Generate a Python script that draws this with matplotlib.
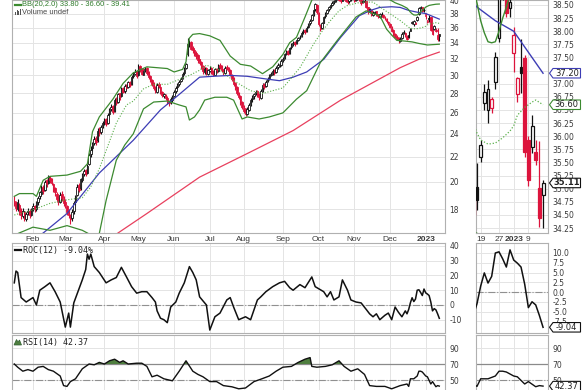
import numpy as np
import matplotlib
matplotlib.use("Agg")
import matplotlib.pyplot as plt
from matplotlib.patches import Polygon, Rectangle
from matplotlib.lines import Line2D
from matplotlib.ticker import FixedLocator, FixedFormatter, NullLocator

plt.rcParams['font.family'] = ['DejaVu Sans']

# ---------------- daily prices (trading-day index 0 = mid Jan 2022 ... 250 = Jan 13 2023)
opens = [18.6, 18.4, 18.0, 18.3, 17.9, 17.5, 17.8, 17.3, 17.8, 17.9,
         17.6, 18.1, 18.2, 18.0, 18.5, 18.9, 19.1, 19.6, 19.4, 20.1,
         19.9, 20.3, 20.2, 19.8, 19.5, 19.1, 18.8, 18.5, 19.1, 18.7,
         18.5, 18.2, 17.9, 17.5, 17.4, 17.9, 18.5, 19.0, 19.7, 19.5,
         20.1, 20.6, 20.9, 20.7, 21.4, 22.2, 22.7, 23.2, 23.6, 23.4,
         24.4, 24.2, 24.7, 25.1, 25.4, 25.0, 25.9, 26.4, 26.7, 26.2,
         27.4, 27.1, 28.0, 27.7, 28.6, 28.3, 28.9, 28.7, 29.3, 29.0,
         29.9, 30.2, 30.5, 30.0, 31.1, 30.7, 30.1, 30.6, 30.9, 30.4,
         29.9, 29.5, 29.1, 28.7, 28.2, 29.0, 28.7, 28.2, 27.7, 27.8,
         27.5, 27.1, 27.1, 27.3, 27.7, 28.3, 28.7, 29.0, 29.4, 29.7,
         30.3, 30.9, 32.5, 33.9, 34.1, 33.3, 33.1, 32.7, 32.4, 31.9,
         31.6, 31.1, 30.4, 30.9, 30.2, 30.5, 30.9, 30.5, 30.1, 30.8,
         30.5, 31.2, 31.1, 30.7, 30.3, 31.0, 30.9, 30.6, 30.1, 29.7,
         29.1, 28.7, 28.1, 27.7, 27.1, 26.5, 26.3, 25.9, 26.3, 26.9,
         27.4, 27.7, 28.0, 28.3, 27.9, 27.5, 28.4, 29.0, 28.8, 29.4,
         29.7, 30.1, 30.3, 30.6, 30.4, 31.0, 31.3, 31.2, 31.8, 32.1,
         32.6, 32.9, 32.7, 33.4, 33.8, 34.1, 33.9, 34.4, 34.7, 34.9,
         35.4, 35.7, 35.5, 36.1, 36.6, 37.1, 37.9, 38.6, 39.3, 38.1,
         36.4, 35.9, 36.7, 37.6, 38.1, 38.6, 39.0, 39.3, 39.7, 39.9,
         40.2, 40.4, 40.1, 39.9, 40.5, 40.3, 39.8, 39.8, 40.2, 40.4,
         40.5, 40.0, 40.3, 40.6, 40.0, 39.7, 39.9, 39.8, 38.9, 38.2,
         38.5, 37.8, 38.0, 38.3, 37.9, 37.5, 38.0, 37.8, 37.4, 37.2,
         36.8, 36.5, 36.0, 35.7, 35.2, 34.7, 34.6, 34.2, 34.6, 35.3,
         35.3, 34.9, 35.03, 35.60, 36.63, 36.50, 36.54, 37.03, 37.87, 38.80,
         38.90, 38.45, 37.59, 36.80, 37.32, 37.49, 35.93, 35.80, 35.70, 35.01, 34.88]
highs = [18.9, 18.6, 18.7, 18.4, 18.1, 18.1, 17.9, 17.8, 18.1, 18.0,
         18.1, 18.4, 18.3, 18.6, 18.9, 19.3, 19.7, 19.7, 20.1, 20.2,
         20.5, 20.4, 20.3, 19.9, 19.6, 19.2, 18.9, 19.2, 19.3, 18.9,
         18.7, 18.3, 18.0, 17.7, 18.0, 18.6, 19.0, 19.8, 19.9, 20.3,
         20.7, 21.0, 21.0, 21.4, 22.3, 22.9, 23.3, 23.8, 23.8, 24.5,
         24.6, 24.8, 25.2, 25.5, 25.5, 26.0, 26.5, 26.9, 26.8, 27.5,
         27.6, 28.1, 28.1, 28.7, 28.7, 29.0, 29.0, 29.4, 29.4, 30.0,
         30.4, 30.7, 30.6, 31.3, 31.2, 30.8, 30.7, 31.0, 31.0, 30.5,
         30.0, 29.6, 29.2, 28.8, 29.1, 29.2, 28.8, 28.3, 28.1, 27.9,
         27.7, 27.3, 27.6, 27.8, 28.4, 28.8, 29.1, 29.5, 29.8, 30.4,
         31.0, 31.5, 34.6, 34.4, 34.2, 33.6, 33.2, 32.9, 32.5, 32.0,
         31.7, 31.2, 31.0, 31.0, 30.8, 31.1, 31.0, 30.6, 30.9, 30.9,
         31.3, 31.4, 31.2, 30.8, 31.1, 31.2, 31.0, 30.7, 30.2, 29.8,
         29.3, 28.8, 28.2, 27.8, 27.2, 26.8, 26.5, 26.6, 27.0, 27.5,
         27.8, 28.1, 28.4, 28.4, 28.0, 28.5, 29.1, 29.1, 29.5, 29.8,
         30.2, 30.4, 30.7, 30.7, 31.1, 31.4, 31.5, 31.9, 32.2, 32.7,
         33.0, 33.0, 33.5, 33.9, 34.2, 34.2, 34.5, 34.8, 35.0, 35.5,
         35.8, 35.8, 36.2, 36.7, 37.2, 38.0, 38.7, 39.6, 39.4, 38.2,
         36.5, 36.8, 37.7, 38.2, 38.7, 39.1, 39.4, 39.8, 40.0, 40.4,
         40.6, 40.5, 40.2, 40.6, 40.7, 40.4, 40.0, 40.3, 40.5, 40.9,
         40.6, 40.4, 40.7, 40.7, 40.1, 40.0, 40.2, 39.9, 39.0, 38.8,
         38.6, 38.3, 38.4, 38.4, 38.0, 38.1, 38.2, 37.9, 37.6, 37.3,
         36.9, 36.6, 36.2, 35.8, 35.3, 35.0, 34.7, 34.7, 35.4, 35.7,
         35.4, 35.0, 35.49, 35.93, 37.00, 37.07, 36.75, 37.60, 38.90, 39.10,
         39.00, 38.80, 38.08, 37.13, 37.85, 37.55, 36.00, 36.40, 35.93, 35.90, 35.17]
lows = [18.2, 17.9, 17.9, 17.6, 17.3, 17.4, 17.2, 17.2, 17.6, 17.4,
        17.5, 17.9, 17.8, 17.9, 18.3, 18.7, 19.0, 19.1, 19.3, 19.6,
        19.8, 19.9, 19.7, 19.2, 18.9, 18.5, 18.3, 18.4, 18.6, 18.2,
        18.1, 17.6, 17.4, 17.0, 17.2, 17.7, 18.3, 18.9, 19.2, 19.4,
        20.0, 20.4, 20.4, 20.6, 21.3, 22.0, 22.5, 23.0, 23.0, 23.3,
        23.8, 24.0, 24.5, 24.8, 24.7, 24.9, 25.7, 26.2, 25.9, 26.1,
        26.8, 27.0, 27.3, 27.6, 28.0, 28.1, 28.4, 28.6, 28.7, 28.9,
        29.7, 30.0, 29.7, 29.9, 30.4, 30.0, 30.0, 30.4, 30.1, 29.6,
        29.2, 28.8, 28.4, 28.0, 28.1, 28.6, 27.9, 27.6, 27.5, 27.3,
        26.9, 26.7, 26.9, 27.1, 27.6, 28.1, 28.5, 28.8, 29.2, 29.6,
        30.1, 30.7, 32.3, 33.4, 33.0, 32.7, 32.3, 32.0, 31.5, 31.2,
        30.7, 30.2, 30.2, 30.0, 30.1, 30.4, 30.2, 29.9, 30.0, 30.3,
        30.4, 30.8, 30.4, 30.1, 30.2, 30.6, 30.3, 29.9, 29.4, 28.8,
        28.4, 27.8, 27.4, 26.8, 26.4, 26.0, 25.7, 25.8, 26.2, 26.7,
        27.1, 27.4, 27.8, 27.6, 27.3, 27.4, 28.2, 28.5, 28.7, 29.2,
        29.5, 29.9, 30.1, 30.1, 30.3, 30.8, 31.0, 31.1, 31.6, 32.0,
        32.4, 32.4, 32.6, 33.2, 33.6, 33.6, 33.8, 34.2, 34.5, 34.8,
        35.2, 35.2, 35.4, 35.9, 36.4, 37.0, 37.7, 38.4, 38.0, 36.3,
        35.6, 35.8, 36.6, 37.4, 37.9, 38.4, 38.8, 39.1, 39.4, 39.7,
        40.0, 39.8, 39.5, 39.8, 40.0, 39.7, 39.4, 39.6, 39.9, 40.2,
        39.7, 39.8, 40.1, 39.9, 39.3, 39.5, 39.6, 38.8, 38.0, 38.1,
        37.7, 37.7, 37.9, 37.6, 37.4, 37.4, 37.7, 37.3, 37.1, 36.7,
        36.4, 35.9, 35.4, 34.9, 34.6, 34.3, 34.0, 34.1, 34.5, 35.1,
        34.8, 34.3, 34.60, 35.50, 36.50, 36.25, 36.45, 36.90, 37.80, 38.60,
        38.27, 38.28, 37.22, 36.65, 36.82, 35.60, 35.05, 35.68, 35.45, 34.28, 34.25]
closes = [18.4, 18.1, 18.5, 17.8, 17.6, 17.9, 17.4, 17.7, 17.9, 17.6,
          18.0, 18.2, 18.0, 18.5, 18.8, 19.2, 19.5, 19.3, 20.0, 19.8,
          20.4, 20.1, 19.9, 19.4, 19.2, 18.7, 18.6, 19.0, 18.8, 18.4,
          18.3, 17.8, 17.6, 17.3, 17.8, 18.4, 18.9, 19.6, 19.4, 20.2,
          20.5, 20.8, 20.6, 21.2, 22.1, 22.6, 23.1, 23.5, 23.3, 24.3,
          24.1, 24.6, 25.0, 25.3, 24.9, 25.8, 26.3, 26.6, 26.1, 27.3,
          27.0, 27.9, 27.6, 28.5, 28.2, 28.8, 28.6, 29.2, 28.9, 29.8,
          30.1, 30.4, 29.9, 31.0, 30.6, 30.2, 30.5, 30.8, 30.3, 29.8,
          29.4, 29.0, 28.6, 28.3, 28.9, 28.8, 28.1, 27.8, 27.9, 27.5,
          27.2, 27.0, 27.4, 27.6, 28.2, 28.6, 28.9, 29.3, 29.6, 30.2,
          30.8, 31.3, 33.8, 34.0, 33.2, 33.0, 32.6, 32.3, 31.8, 31.5,
          31.0, 30.5, 30.8, 30.3, 30.6, 30.8, 30.4, 30.2, 30.7, 30.6,
          31.1, 31.0, 30.6, 30.4, 30.9, 30.8, 30.5, 30.2, 29.6, 29.0,
          28.6, 28.0, 27.6, 27.0, 26.6, 26.2, 25.9, 26.4, 26.8, 27.3,
          27.6, 27.9, 28.2, 27.8, 27.6, 28.3, 28.9, 28.7, 29.3, 29.6,
          30.0, 30.2, 30.5, 30.3, 30.9, 31.2, 31.3, 31.7, 32.0, 32.5,
          32.8, 32.6, 33.3, 33.7, 34.0, 33.8, 34.3, 34.6, 34.8, 35.3,
          35.6, 35.4, 36.0, 36.5, 37.0, 37.8, 38.5, 39.4, 38.2, 36.5,
          35.8, 36.6, 37.5, 38.0, 38.5, 38.9, 39.2, 39.6, 39.8, 40.1,
          40.3, 40.0, 39.8, 40.4, 40.2, 39.9, 39.7, 40.1, 40.3, 40.6,
          39.9, 40.2, 40.5, 40.1, 39.6, 39.8, 39.9, 39.0, 38.3, 38.6,
          37.9, 38.1, 38.2, 37.8, 37.6, 37.9, 37.9, 37.5, 37.3, 36.9,
          36.6, 36.1, 35.6, 35.1, 34.8, 34.5, 34.3, 34.5, 35.2, 35.4,
          35.0, 34.5, 34.79, 35.83, 36.84, 36.90, 36.70, 37.50, 38.75, 38.90,
          38.35, 38.55, 37.93, 37.10, 37.20, 35.70, 35.17, 36.20, 35.55, 34.44, 35.11]

# ---------------- overlays (sampled at trading-day index)
bb_up_idx = [0, 3, 11, 13, 17, 21, 31, 39, 43, 46, 50, 58, 64, 70, 78, 90, 94, 99, 101, 102,
             103, 105, 109, 115, 121, 127, 133, 139, 146, 152, 158, 162, 166, 171, 175, 180, 190, 200,
             207, 212, 215, 220, 224, 228, 231, 232, 233, 234, 235, 236, 237, 238, 239, 240, 241,
             242, 244, 246, 248, 250]
bb_up = [18.9, 19.1, 19.1, 18.9, 20.1, 20.4, 20.5, 20.8, 21.4, 24.2, 25.6, 27.4, 29.1, 30.3, 31.0,
         30.8, 30.4, 30.7, 31.6, 33.4, 34.6, 35.1, 35.2, 34.9, 34.3, 32.3, 31.3, 31.1, 30.2, 31.0,
         32.5, 34.0, 34.7, 37.5, 40.0, 41.8, 42.5, 42.0, 41.3, 41.0, 40.5, 40.2, 39.6, 39.2, 38.8,
         38.54, 38.2, 37.97, 37.8, 37.78, 37.8, 38.0, 38.25, 38.46, 38.7, 38.95, 39.2, 39.3, 39.38,
         39.41]
bb_mid_idx = [0, 11, 21, 31, 40, 45, 50, 55, 60, 66, 70, 76, 82, 90, 99, 103, 109, 113, 121, 129,
              139, 146, 158, 168, 176, 181, 186, 191, 196, 204, 211, 219, 227, 232, 233, 235, 237,
              239, 241, 242, 243, 245, 247, 248, 250]
bb_mid = [17.6, 17.95, 18.4, 18.65, 18.8, 19.6, 21.0, 22.9, 25.0, 26.8, 27.2, 28.5, 29.0, 29.0,
          29.7, 30.0, 30.6, 31.2, 30.6, 29.4, 28.3, 28.0, 28.6, 30.9, 33.8, 35.5, 37.0, 38.4, 39.2,
          39.7, 39.7, 38.3, 37.0, 36.06, 35.93, 35.85, 35.87, 35.97, 36.1, 36.2, 36.4, 36.55, 36.65,
          36.69, 36.6]
bb_lo_idx = [0, 11, 21, 31, 40, 47, 50, 54, 60, 65, 70, 76, 82, 90, 97, 101, 103, 106, 109, 112,
             118, 125, 129, 134, 137, 144, 150, 158, 166, 172, 180, 190, 201, 207, 211, 215, 219, 222,
             225, 230, 234, 238, 243, 250]
bb_lo = [16.3, 16.8, 16.6, 16.9, 16.6, 16.2, 16.4, 18.6, 21.7, 23.0, 24.0, 26.4, 27.1, 27.2, 26.8,
         26.6, 25.3, 25.6, 26.3, 27.3, 27.6, 27.6, 27.3, 25.4, 25.6, 25.4, 25.6, 26.0, 27.4, 28.3,
         31.5, 34.3, 37.5, 38.4, 38.0, 37.7, 35.8, 35.0, 34.3, 34.2, 34.1, 33.9, 33.7, 33.8]
sma50_idx = [12, 17, 31, 50, 70, 86, 97, 109, 117, 127, 137, 148, 156, 164, 172, 182, 192, 203, 210,
             215, 222, 227, 232, 237, 242, 245, 248, 250]
sma50 = [16.1, 16.43, 17.7, 20.66, 23.42, 26.3, 27.9, 29.8, 29.9, 30.0, 29.9, 29.6, 29.4, 29.8,
         30.4, 31.9, 34.7, 37.7, 38.5, 38.9, 39.0, 38.9, 38.46, 38.2, 38.0, 37.7, 37.4, 37.2]
sma200_idx = [55, 61, 78, 109, 139, 164, 192, 227, 239, 250]
sma200 = [15.96, 16.43, 17.7, 20.34, 22.4, 24.3, 27.3, 30.9, 32.0, 32.8]

# ---------------- indicators
roc_idx = [0, 1, 2, 4, 7, 11, 13, 15, 18, 21, 24, 27, 30, 32, 33, 35, 40, 42, 43, 44,
           45, 47, 50, 54, 57, 60, 63, 66, 69, 72, 75, 78, 81, 83, 84, 86, 88, 90, 92, 95,
           97, 100, 103, 105, 107, 109, 113, 115, 118, 121, 125, 127, 129, 132, 136, 139, 143, 145, 148, 152,
           156, 159, 162, 164, 168, 171, 175, 177, 182, 184, 186, 188, 191, 193, 196, 198, 201, 204, 207, 209,
           211, 213, 215, 218, 220, 222, 224, 226, 228, 230, 231, 232, 233, 234, 235, 236, 237, 238, 239, 240,
           241, 242, 243, 244, 245, 246, 247, 248, 249, 250]
roc = [15, 23, 22, 5, 2, 5, 0, 10, 12.4, 15, 9, 2, -15, -5.5, -15, 1.4, 17, 24, 34.5, 31,
       34.5, 26, 22, 15, 17, 18.6, 25.5, 19, 12.4, 8, 9, 9, 5, 2, -4, -9, -10, -12, -1.4, 2,
       8, 15, 26, 22, 17, 5.5, 0, -17, -8, -5.5, 3.4, 5, -1.4, -10, -8, -10, 3.4, 5.5, 9, 12.4,
       15, 16, 11.7, 10, 13.8, 11.7, 19, 12.4, 9, 5.5, 9, 3.4, 5.5, 17, 10, 3.4, 2, 1.4, -3, -6,
       -8, -6, -10, -7, -5.5, -10, -1.4, -5, -8, -4, -6, -3, 1.5, 4.9, 2.3, 4.0, 10, 10.3, 8.5, 6.4,
       10.8, 8.2, 7.4, 6.4, 2, -4, -2.5, -3.3, -6, -9.04]
rsi_idx = [0, 2, 5, 8, 11, 14, 17, 20, 23, 27, 29, 31, 33, 36, 40, 44, 47, 50, 53, 56,
           59, 62, 64, 67, 72, 75, 78, 81, 84, 88, 93, 97, 101, 105, 108, 111, 115, 119, 123, 128,
           132, 136, 141, 145, 150, 154, 158, 163, 167, 171, 174, 175, 178, 183, 187, 191, 194, 198, 202, 206,
           209, 213, 218, 222, 227, 231, 232, 233, 235, 237, 238, 239, 240, 242, 243, 245, 246, 248, 249, 250]
rsi = [70, 66, 61, 63, 61, 66, 67, 63, 61, 55, 43, 42, 48, 51.5, 64, 70, 69, 72, 70, 74,
       76, 72, 74, 70, 71, 71, 67, 54, 56, 51.5, 49, 61, 74, 61, 57, 54, 48, 48, 43, 41.5,
       39, 40, 48, 51, 55, 61, 66, 67, 72, 76, 78, 67, 66, 67, 69, 74, 67, 61, 64, 57,
       43, 42, 42, 39, 43, 45, 42, 51.5, 51.5, 55, 61, 61, 60, 55, 54, 45, 48, 41.6, 43, 42.37]

# ---------------- axis labels
month_idx = [11, 30, 53, 73, 94, 115, 135, 158, 179, 200, 221, 242]
month_lbl = ['Feb', 'Mar', 'Apr', 'May', 'Jun', 'Jul', 'Aug', 'Sep', 'Oct', 'Nov', 'Dec', '2023']
zoom_idx = [233, 238, 242, 246]
zoom_lbl = ['19', '27', '2023', '9']
price_ticks = [18, 20, 22, 24, 26, 28, 30, 32, 34, 36, 38, 40]
zoom_price_ticks = [34.25, 34.5, 34.75, 35.0, 35.25, 35.5, 35.75, 36.0, 36.25, 36.5, 36.75, 37.0,
                    37.25, 37.5, 37.75, 38.0, 38.25, 38.5]
roc_ticks = [-10, 0, 10, 20, 30, 40]
zoom_roc_ticks = [-7.5, -5.0, -2.5, 0.0, 2.5, 5.0, 7.5, 10.0]
rsi_ticks = [50, 70, 90]

# ---------------- style
RED = '#dc143c'
BLACK = '#111111'
BBG = '#3c8a30'
BBMID = '#5cb04c'
BLUE = '#3d3db5'
SMA200C = '#e8405e'
GRID = '#e4e4e4'
SPINE = '#b0b0b0'
TXT = '#3a3a3a'

W, H = 585, 390
fig = plt.figure(figsize=(W / 100, H / 100), dpi=100)
fig.patch.set_facecolor('white')


def add_ax(x0, y0, x1, y1):
    return fig.add_axes([x0 / W, 1 - y1 / H, (x1 - x0) / W, (y1 - y0) / H])


ax_p = add_ax(12, 0, 445, 233)
ax_pr = add_ax(476, 0, 548, 233)
ax_r = add_ax(12, 243, 445, 333)
ax_rr = add_ax(476, 243, 548, 333)
ax_s = add_ax(12, 335, 445, 420)
ax_sr = add_ax(476, 335, 548, 420)

MAIN_XLIM = (-1.35, 253.35)
ZOOM_XLIM = (231.73, 251.35)


def style(ax, xt, xl, yt, yfmt, show_x, hide=()):
    for s in ax.spines.values():
        s.set_color(SPINE)
        s.set_linewidth(0.8)
    ax.yaxis.tick_right()
    ax.tick_params(which='both', length=0, labelsize=5.5, labelcolor=TXT, pad=3)
    ax.tick_params(axis='x', pad=2)
    ax.xaxis.set_major_locator(FixedLocator(xt))
    if show_x:
        ax.xaxis.set_major_formatter(FixedFormatter(xl))
        for t, s in zip(ax.get_xticklabels(), xl):
            t.set_fontfamily('Liberation Sans')
            t.set_fontsize(6)
            if s == '2023':
                t.set_fontweight('bold')
    else:
        ax.xaxis.set_major_formatter(FixedFormatter([''] * len(xt)))
    ax.yaxis.set_major_locator(FixedLocator(yt))
    ax.yaxis.set_major_formatter(FixedFormatter(['' if v in hide else yfmt(v) for v in yt]))
    ax.yaxis.set_minor_locator(NullLocator())
    ax.xaxis.set_minor_locator(NullLocator())
    ax.grid(True, color=GRID, lw=0.7)
    ax.set_axisbelow(True)


idx = np.arange(len(closes))
o = np.array(opens); h = np.array(highs); l = np.array(lows); c = np.array(closes)
prev = np.concatenate([[o[0]], c[:-1]])
cols = np.where(c >= prev, BLACK, RED)
hollow = c > o
faces = ['white' if hh else cc for hh, cc in zip(hollow, cols)]


def price_panel(ax, bw, wlw, elw, lw):
    ax.vlines(idx, l, h, colors=cols, lw=wlw, zorder=3)
    ax.bar(idx, np.maximum(np.abs(c - o), 0.005), bw, bottom=np.minimum(o, c), color=faces,
           edgecolor=cols, linewidth=elw, zorder=4)
    ax.plot(sma200_idx, sma200, color=SMA200C, lw=lw, zorder=5)
    ax.plot(sma50_idx, sma50, color=BLUE, lw=lw, zorder=5)
    ax.plot(bb_up_idx, bb_up, color=BBG, lw=lw, zorder=5)
    ax.plot(bb_lo_idx, bb_lo, color=BBG, lw=lw, zorder=5)
    ax.plot(bb_mid_idx, bb_mid, color=BBMID, lw=lw * 0.9, ls=(0, (1, 1.5)), zorder=5)


price_panel(ax_p, 0.85, 0.8, 0.6, 0.9)
ax_p.set_yscale('log')
style(ax_p, month_idx, month_lbl, price_ticks, lambda v: '%d' % v, True)
ax_p.set_xlim(*MAIN_XLIM)
ax_p.set_ylim(16.43, 40.02)

price_panel(ax_pr, 0.8, 0.9, 0.9, 1.0)
style(ax_pr, zoom_idx, zoom_lbl, zoom_price_ticks, lambda v: '%.2f' % v, True, hide=(37.25,))
ax_pr.set_xlim(*ZOOM_XLIM)
ax_pr.set_ylim(34.157, 38.595)

for ax, xt, xlim, ylim, yt, fmt in [
        (ax_r, month_idx, MAIN_XLIM, (-19.0, 42.0), roc_ticks, lambda v: '%d' % v),
        (ax_rr, zoom_idx, ZOOM_XLIM, (-10.5, 12.56), zoom_roc_ticks, lambda v: '%.1f' % v)]:
    ax.plot(roc_idx, roc, color=BLACK, lw=1.1, zorder=4)
    ax.axhline(0, color='#909090', lw=0.8, ls='-.', zorder=2)
    style(ax, xt, None, yt, fmt, False)
    ax.set_xlim(*xlim)
    ax.set_ylim(*ylim)

rsi_x = np.array(rsi_idx, dtype=float)
rsi_v = np.array(rsi, dtype=float)
for ax, xt, xlim in [(ax_s, month_idx, MAIN_XLIM), (ax_sr, zoom_idx, ZOOM_XLIM)]:
    ax.fill_between(rsi_x, rsi_v, 70, where=rsi_v > 70, interpolate=True, color='#4f7f3f', lw=0, zorder=3)
    ax.plot(rsi_x, rsi_v, color=BLACK, lw=1.0, zorder=4)
    ax.axhline(70, color='#8a8a8a', lw=0.9, zorder=2)
    ax.axhline(50, color='#909090', lw=0.8, ls='-.', zorder=2)
    style(ax, xt, None, rsi_ticks, lambda v: '%d' % v, False)
    ax.set_xlim(*xlim)
    ax.set_ylim(0, 106.25)


# ---------------- legends
def fpx(x, y):
    return x / W, 1 - y / H


fig.add_artist(Line2D([15 / W, 21 / W], [1 - 4.5 / H] * 2, color=BBG, lw=1.6))
fig.text(*fpx(22, 4.5), 'BB(20,2.0) 33.80 - 36.60 - 39.41', color='#2e7a2a', fontsize=5.4,
         va='center', ha='left', family='Liberation Sans')
for bx, bh in [(15, 3), (16.5, 5), (18, 4), (19.5, 6)]:
    fig.add_artist(Rectangle(fpx(bx, 15), 1 / W, bh / H, color='#555555', lw=0))
fig.text(*fpx(22, 12.5), 'Volume undef', color='#444444', fontsize=5.4, va='center', ha='left',
         family='Liberation Sans')

fig.add_artist(Line2D([15 / W, 21 / W], [1 - 250 / H] * 2, color=BLACK, lw=1.6))
fig.text(*fpx(23, 250), 'ROC(12) -9.04%', color='#222222', fontsize=6, va='center', ha='left',
         family='DejaVu Sans Mono')
fig.add_artist(Polygon([fpx(14, 345), fpx(16.5, 339.5), fpx(18, 342), fpx(19.5, 340), fpx(21.5, 345)],
                       closed=True, facecolor='#4f7f3f', edgecolor='#2f5f2f', lw=0.5))
fig.text(*fpx(23, 342.5), 'RSI(14) 42.37', color='#222222', fontsize=6, va='center', ha='left',
         family='DejaVu Sans Mono')


# ---------------- value tags on the zoom panels
def tag(ax, value, text, edge, bold=False):
    yd = ax.transData.transform((ax.get_xlim()[0], value))[1]
    x0 = ax.get_position().x1 * W + 1.5
    hh, ww = 9.5, 31
    pts = [(x0, yd), (x0 + 3.5, yd + hh / 2), (x0 + ww, yd + hh / 2), (x0 + ww, yd - hh / 2),
           (x0 + 3.5, yd - hh / 2)]
    fig.add_artist(Polygon([(px / W, py / H) for px, py in pts], closed=True, facecolor='white',
                           edgecolor=edge, lw=0.8, zorder=10))
    fig.text((x0 + 3.5 + (ww - 3.5) / 2) / W, yd / H, text, ha='center', va='center', fontsize=6,
             color='#222222', fontweight='bold' if bold else 'normal', zorder=11)


tag(ax_pr, 37.20, '37.20', BLUE)
tag(ax_pr, 36.60, '36.60', BBG)
tag(ax_pr, 35.11, '35.11', BLACK, bold=True)
tag(ax_rr, -9.04, '-9.04', BLACK)
tag(ax_sr, 42.37, '42.37', BLACK)

fig.savefig('out.png', dpi=100)
